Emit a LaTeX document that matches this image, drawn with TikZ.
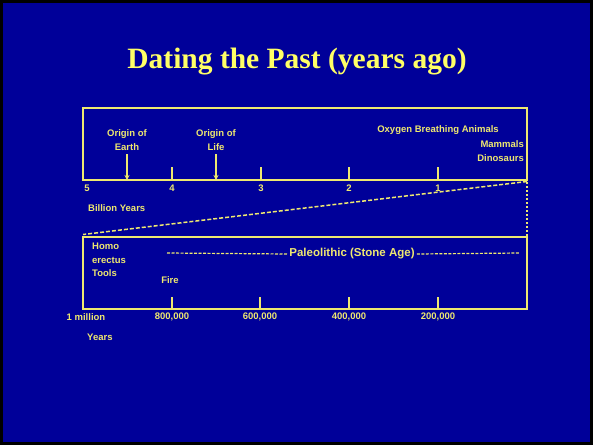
\documentclass[tikz,border=0pt]{standalone}
\usepackage{fontspec}
\setmainfont{Liberation Serif}
\newfontfamily\slidesans{Liberation Sans}
\usetikzlibrary{arrows.meta,positioning}
\definecolor{slideblue}{RGB}{0,0,153}
\definecolor{titleyellow}{RGB}{255,255,102}
\definecolor{lineyellow}{RGB}{238,232,112}
\tikzset{
  boxline/.style={draw=lineyellow,line width=2.4pt},
  tickline/.style={draw=lineyellow,line width=2.2pt},
  pointer/.style={draw=lineyellow,line width=2.4pt,-{Stealth[length=5pt,width=5pt]}},
  lbl/.style={text=lineyellow,font=\slidesans\bfseries\fontsize{9.5}{13.5}\selectfont,inner sep=0pt,align=center},
  zoomline/.style={draw=lineyellow,line width=1.5pt,dash pattern=on 4pt off 2pt},
  dotline/.style={draw=lineyellow,line width=2.4pt,dash pattern=on 2pt off 2pt},
}
\begin{document}
\begin{tikzpicture}[x=1pt,y=-1pt]
  \useasboundingbox (0,0) rectangle (593,445);
  \fill[black] (0,0) rectangle (593,445);
  \fill[slideblue] (3,3) rectangle (590,442);
  \node[text=titleyellow,font=\bfseries\fontsize{29.5}{32}\selectfont] (title) at (297,62) {Dating the Past (years ago)};
  % billion years
  \coordinate (bnw) at (83,108);
  \coordinate (bne) at (527,108);
  \coordinate (bsw) at (83,180);
  \coordinate (bse) at (527,180);
  \draw[boxline] (bsw) -- (bnw) -- (bne) -- (bse) -- cycle;
  \node[lbl] (b5) at (87,188) {5};
  \foreach \x/\n in {172/4,261/3,349/2,438/1}{
    \coordinate (bt\n) at (\x,180);
    \draw[tickline] (bt\n) -- ++(0,-13);
    \node[lbl] (b\n) at (\x,188) {\n};
  }
  \node[lbl,anchor=west] (bunit) at (88,208) {Billion Years};
  \node[lbl] (earth) at (127,140) {Origin of\\Earth};
  \coordinate (earthpt) at (127,180);
  \draw[pointer] ([yshift=-4pt]earth.south) -- (earthpt);
  \node[lbl] (life) at (216,140) {Origin of\\Life};
  \coordinate (lifept) at (216,180);
  \draw[pointer] ([yshift=-4pt]life.south) -- (lifept);
  \node[lbl] (oxygen) at (438,130) {Oxygen Breathing Animals};
  \node[lbl,anchor=east,align=right] (dino) at (524,151) {Mammals\\Dinosaurs};
  % zoom into last million
  \coordinate (lnw) at (83,237);
  \coordinate (lne) at (527,237);
  \coordinate (lsw) at (83,309);
  \coordinate (lse) at (527,309);
  \draw[zoomline] ([yshift=-1.5pt]bse) -- ([yshift=2.5pt]lnw);
  \draw[dotline] ([yshift=-2pt]bse) -- (lne);
  \draw[boxline] (lsw) -- (lnw) -- (lne) -- (lse) -- cycle;
  \node[lbl] (m1) at (86,317) {1 million};
  \foreach \x/\n in {172/800,260/600,349/400,438/200}{
    \coordinate (lt\n) at (\x,309);
    \draw[tickline] (lt\n) -- ++(0,-12);
    \node[lbl] (m\n) at (\x,317) {\n,000};
  }
  \node[lbl,anchor=west] (munit) at (87,337) {Years};
  \node[lbl,anchor=north west,align=left] (homo) at (92,243) {Homo\\erectus\\Tools};
  \node[lbl] (fire) at (170,280) {Fire};
  \node[lbl,font=\slidesans\bfseries\fontsize{11.5}{13}\selectfont] (paleo) at (352,254) {Paleolithic (Stone Age)};
  \coordinate (pstart) at (167,253);
  \coordinate (pend) at (519,253);
  \draw[zoomline,line width=1.2pt,dash pattern=on 3pt off 1.5pt] (pstart) -- ([xshift=-2pt]paleo.west);
  \draw[zoomline,line width=1.2pt,dash pattern=on 3pt off 1.5pt] ([xshift=2pt]paleo.east) -- (pend);
\end{tikzpicture}
\end{document}
